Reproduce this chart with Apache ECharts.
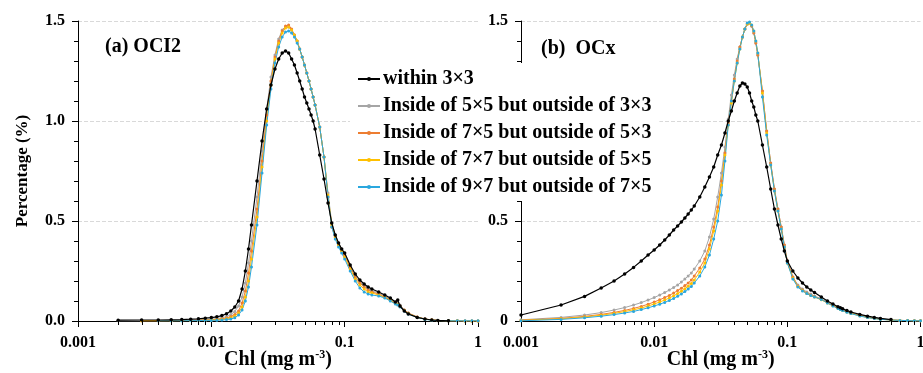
<!DOCTYPE html>
<html><head><meta charset="utf-8">
<script src="https://cdn.jsdelivr.net/npm/echarts@6/dist/echarts.min.js"></script>
<style>html,body{margin:0;padding:0;background:#fff}#c{width:923px;height:373px}</style>
</head><body><div id="c"></div>
<script>
// ---- data (Chl bins, mg m^-3) ----
const chl = [
  0.001,0.002,0.003,0.004,0.005,0.006,0.007,0.008,0.009,
  0.010,0.011,0.012,0.013,0.014,0.015,0.016,0.017,0.018,0.019,
  0.020,0.022,0.024,0.026,0.028,0.030,0.032,0.034,0.036,0.038,
  0.040,0.042,0.044,0.046,0.048,0.050,0.052,0.054,0.056,0.058,
  0.060,0.065,0.070,0.075,0.080,0.085,0.090,0.095,
  0.100,0.110,0.120,0.130,0.140,0.150,0.160,0.180,
  0.200,0.220,0.240,0.250,0.260,0.280,0.300,0.350,
  0.400,0.450,0.500,0.600,0.700,0.800,0.900,1.000
];
const seriesNames = [
  'within 3×3',
  'Inside of 5×5 but outside of 3×3',
  'Inside of 7×5 but outside of 5×3',
  'Inside of 7×7 but outside of 5×5',
  'Inside of 9×7 but outside of 7×5'
];
const panelTitles = ['(a) OCI2', '(b)  OCx'];
const xTickLabels = ['0.001', '0.01', '0.1', '1'];
const minorXTicks = [0.002,0.003,0.004,0.005,0.006,0.007,0.008,0.009,
                     0.02,0.03,0.04,0.05,0.06,0.07,0.08,0.09,
                     0.2,0.3,0.4,0.5,0.6,0.7,0.8,0.9];

// (a) OCI2
const aWithin = [
  null,0.004,0.005,0.005,0.006,0.007,0.009,0.011,0.014,
  0.017,0.021,0.027,0.036,0.05,0.07,0.1,0.16,0.25,0.36,
  0.48,0.7,0.9,1.06,1.18,1.26,1.31,1.34,1.35,1.34,
  1.31,1.28,1.24,1.2,1.16,1.12,1.09,1.06,1.03,1.0,
  0.96,0.83,0.71,0.59,0.49,0.43,0.39,0.36,
  0.34,0.28,0.235,0.205,0.185,0.17,0.16,0.145,
  0.13,0.115,0.095,0.105,0.075,0.05,0.035,0.018,
  0.01,0.005,0.003,0.001,null,null,null,null
];
const a5x5 = [
  null,0.001,0.001,0.002,0.002,0.003,0.004,0.005,0.007,
  0.009,0.012,0.016,0.022,0.032,0.048,0.075,0.12,0.19,0.29,
  0.4,0.62,0.85,1.06,1.22,1.33,1.41,1.455,1.47,1.47,
  1.455,1.43,1.4,1.36,1.32,1.28,1.24,1.2,1.16,1.12,
  1.08,0.97,0.82,0.64,0.49,0.43,0.39,0.36,
  0.33,0.27,0.225,0.195,0.175,0.16,0.15,0.14,
  0.125,0.11,0.095,0.09,0.08,0.055,0.04,0.02,
  0.01,0.005,0.003,0.001,0.001,0.0005,0.0005,0.0005
];
const a7x5 = [
  null,null,0.001,0.001,0.002,0.002,0.003,0.004,0.005,
  0.006,0.008,0.011,0.015,0.022,0.033,0.05,0.09,0.15,0.24,
  0.35,0.56,0.8,1.03,1.2,1.32,1.4,1.45,1.475,1.48,
  1.46,1.43,1.4,1.36,1.32,1.28,1.24,1.2,1.16,1.12,
  1.08,0.97,0.82,0.62,0.47,0.42,0.38,0.35,
  0.33,0.27,0.22,0.19,0.17,0.155,0.145,0.135,
  0.12,0.105,0.09,0.085,0.075,0.055,0.04,0.02,
  0.01,0.006,0.003,0.001,0.001,0.0005,0.0005,0.0005
];
const a7x7 = [
  null,null,0.001,0.001,0.001,0.002,0.002,0.003,0.004,
  0.005,0.006,0.008,0.011,0.016,0.025,0.04,0.07,0.12,0.2,
  0.31,0.52,0.77,1.0,1.18,1.31,1.39,1.44,1.465,1.47,
  1.455,1.43,1.4,1.36,1.32,1.28,1.24,1.2,1.16,1.12,
  1.08,0.97,0.82,0.63,0.48,0.42,0.38,0.35,
  0.32,0.26,0.21,0.18,0.16,0.145,0.14,0.13,
  0.118,0.102,0.088,0.082,0.072,0.052,0.037,0.019,
  0.009,0.005,0.002,0.001,0.001,0.0005,0.0005,0.0005
];
const a9x7 = [
  null,null,null,0.001,0.001,0.001,0.002,0.002,0.003,
  0.003,0.004,0.005,0.007,0.01,0.016,0.03,0.055,0.1,0.17,
  0.27,0.48,0.74,0.98,1.16,1.29,1.37,1.42,1.445,1.45,
  1.44,1.42,1.39,1.36,1.32,1.28,1.24,1.2,1.16,1.12,
  1.08,0.97,0.82,0.62,0.47,0.41,0.37,0.34,
  0.31,0.25,0.2,0.165,0.145,0.135,0.13,0.125,
  0.115,0.1,0.085,0.08,0.07,0.05,0.035,0.018,
  0.008,0.004,0.002,0.001,0.001,0.001,0.001,0.001
];

// (b) OCx
const bWithin = [
  0.03,0.08,0.123,0.165,0.2,0.235,0.268,0.3,0.33,
  0.355,0.38,0.405,0.43,0.455,0.475,0.495,0.515,0.535,0.555,
  0.575,0.62,0.67,0.72,0.77,0.83,0.88,0.94,1.0,1.05,
  1.1,1.14,1.175,1.19,1.185,1.17,1.14,1.1,1.07,1.03,
  1.0,0.88,0.77,0.66,0.56,0.48,0.41,0.35,
  0.3,0.25,0.215,0.19,0.17,0.155,0.143,0.12,
  0.1,0.085,0.071,0.066,0.061,0.052,0.045,0.033,
  0.024,0.018,0.013,0.007,null,null,null,null
];
const b5x5 = [
  0.006,0.018,0.03,0.042,0.055,0.067,0.08,0.092,0.105,
  0.117,0.13,0.142,0.155,0.168,0.18,0.195,0.21,0.225,0.24,
  0.26,0.3,0.35,0.42,0.51,0.62,0.74,0.87,1.01,1.13,
  1.23,1.31,1.37,1.42,1.46,1.485,1.49,1.475,1.44,1.39,
  1.33,1.15,0.95,0.79,0.66,0.56,0.47,0.38,
  0.3,0.22,0.18,0.16,0.145,0.135,0.125,0.11,
  0.095,0.08,0.068,0.062,0.057,0.049,0.042,0.03,
  0.021,0.015,0.011,0.006,0.003,0.002,0.001,0.001
];
const b7x5 = [
  0.004,0.013,0.023,0.033,0.043,0.053,0.063,0.073,0.084,
  0.095,0.106,0.117,0.128,0.14,0.152,0.164,0.177,0.19,0.205,
  0.225,0.265,0.31,0.38,0.47,0.57,0.7,0.84,0.99,1.1,
  1.21,1.3,1.37,1.42,1.46,1.485,1.49,1.475,1.44,1.39,
  1.33,1.15,0.95,0.79,0.66,0.56,0.47,0.38,
  0.3,0.22,0.175,0.155,0.14,0.13,0.122,0.108,
  0.092,0.078,0.066,0.06,0.055,0.047,0.04,0.028,
  0.019,0.014,0.01,0.005,0.003,0.002,0.001,0.001
];
const b7x7 = [
  0.003,0.011,0.02,0.029,0.038,0.047,0.056,0.065,0.075,
  0.085,0.095,0.105,0.115,0.126,0.137,0.149,0.161,0.174,0.188,
  0.205,0.245,0.29,0.36,0.45,0.55,0.68,0.83,0.98,1.09,
  1.2,1.29,1.36,1.42,1.46,1.485,1.49,1.48,1.45,1.4,
  1.34,1.14,0.94,0.78,0.65,0.55,0.46,0.37,
  0.29,0.215,0.172,0.152,0.138,0.128,0.12,0.106,
  0.09,0.076,0.064,0.058,0.053,0.045,0.038,0.026,
  0.018,0.013,0.009,0.005,0.003,0.002,0.001,0.001
];
const b9x7 = [
  0.001,0.008,0.016,0.024,0.032,0.04,0.048,0.057,0.066,
  0.075,0.084,0.093,0.103,0.113,0.124,0.135,0.147,0.16,0.173,
  0.19,0.225,0.27,0.33,0.41,0.5,0.63,0.8,0.98,1.1,
  1.2,1.29,1.36,1.42,1.46,1.49,1.495,1.48,1.45,1.4,
  1.34,1.12,0.93,0.78,0.65,0.55,0.46,0.37,
  0.29,0.21,0.17,0.15,0.137,0.127,0.12,0.108,
  0.09,0.075,0.062,0.057,0.052,0.044,0.037,0.025,
  0.017,0.012,0.008,0.005,0.003,0.002,0.001,0.001
];

// ---- chart ----
const FONT = "'Liberation Serif', 'Times New Roman', serif";
const colors = ['#000000', '#A5A5A5', '#ED7D31', '#FFC000', '#2AA7DE'];
const panels = [
  [aWithin, a5x5, a7x5, a7x7, a9x7],
  [bWithin, b5x5, b7x5, b7x7, b9x7]
];

function pairs(ys) {
  const out = [];
  chl.forEach((x, i) => { if (ys[i] !== null) out.push([x, ys[i]]); });
  return out;
}

const chart = echarts.init(document.getElementById('c'), null, {renderer: 'canvas'});

const grids = [
  {left: 78, top: 21, width: 400, height: 300, outerBoundsMode: 'none', containLabel: false},
  {left: 521, top: 21, width: 399.5, height: 300, outerBoundsMode: 'none', containLabel: false}
];

const xAxes = [0, 1].map(g => ({
  type: 'log', logBase: 10, gridIndex: g, min: 0.001, max: 1,
  axisLine: {show: true, onZero: false, lineStyle: {color: '#000', width: 1}},
  axisTick: {show: true, length: 6, lineStyle: {color: '#000'}},
  splitLine: {show: false},
  axisLabel: {
    margin: 14, color: '#000', fontFamily: FONT, fontWeight: 'bold', fontSize: 16,
    formatter: v => xTickLabels[Math.round(Math.log10(v)) + 3]
  },
  name: '{a|Chl (mg m}{s|-3}{a|)}',
  nameLocation: 'middle', nameGap: 28, nameMoveOverlap: false,
  nameTextStyle: {
    rich: {
      a: {fontFamily: FONT, fontWeight: 'bold', fontSize: 20, color: '#000', lineHeight: 22},
      s: {fontFamily: FONT, fontWeight: 'bold', fontSize: 12, color: '#000', verticalAlign: 'top', lineHeight: 22}
    }
  }
}));

const yAxes = [0, 1].map(g => ({
  type: 'value', gridIndex: g, min: 0, max: 1.5, interval: 0.5,
  axisLine: {show: true, onZero: false, lineStyle: {color: '#000', width: 1}},
  axisTick: {show: true, length: 6, lineStyle: {color: '#000'}},
  minorTick: {show: true, splitNumber: 5, length: 4, lineStyle: {color: '#000'}},
  splitLine: {show: true, lineStyle: {color: '#d9d9d9', type: 'dashed', width: 1}},
  axisLabel: {
    margin: 13, color: '#000', fontFamily: FONT, fontWeight: 'bold', fontSize: 16,
    formatter: v => (g === 1 && v === 0) ? '0' : v.toFixed(1)
  },
  name: g === 0 ? 'Percentage (%)' : '',
  nameLocation: 'middle', nameGap: 47, nameMoveOverlap: false,
  nameTextStyle: {fontFamily: FONT, fontWeight: 'bold', fontSize: 17, color: '#000'}
}));

const series = [];
panels.forEach((arrs, g) => {
  // draw colored first, black on top
  [1, 2, 3, 4, 0].forEach(k => {
    series.push({
      type: 'line', name: seriesNames[k], xAxisIndex: g, yAxisIndex: g,
      data: pairs(arrs[k]),
      symbol: 'circle', symbolSize: k === 0 ? 3.5 : 3,
      showSymbol: true,
      lineStyle: {color: colors[k], width: k === 0 ? 1.2 : 1},
      itemStyle: {color: colors[k]},
      z: k === 0 ? 4 : 3
    });
  });
  series.push({
    type: 'custom', xAxisIndex: g, yAxisIndex: g, silent: true, clip: false, z: 5,
    data: minorXTicks.map(v => [v, 0]),
    renderItem: (params, api) => {
      const p = api.coord([api.value(0), 0]);
      const x = Math.round(p[0]) + 0.5;
      return {type: 'line', shape: {x1: x, y1: p[1], x2: x, y2: p[1] + 4},
              style: {stroke: '#000', lineWidth: 1}};
    }
  });
});

chart.setOption({
  animation: false,
  backgroundColor: '#fff',
  grid: grids,
  xAxis: xAxes,
  yAxis: yAxes,
  title: [
    {text: panelTitles[0], left: 105, top: 37, padding: 0,
     textStyle: {fontFamily: FONT, fontWeight: 'bold', fontSize: 20, color: '#000'}},
    {text: panelTitles[1], left: 541, top: 39, padding: 0,
     textStyle: {fontFamily: FONT, fontWeight: 'bold', fontSize: 20, color: '#000'}}
  ],
  legend: {
    data: seriesNames,
    orient: 'vertical', left: 350, top: 63,
    padding: [6, 8, 4, 7],
    itemGap: 7, itemWidth: 22, itemHeight: 5,
    backgroundColor: '#fff',
    textStyle: {fontFamily: FONT, fontWeight: 'bold', fontSize: 20, color: '#000', lineHeight: 20, padding: [0, 0, 0, -2]},
    z: 10
  },
  series: series
});
</script></body></html>
